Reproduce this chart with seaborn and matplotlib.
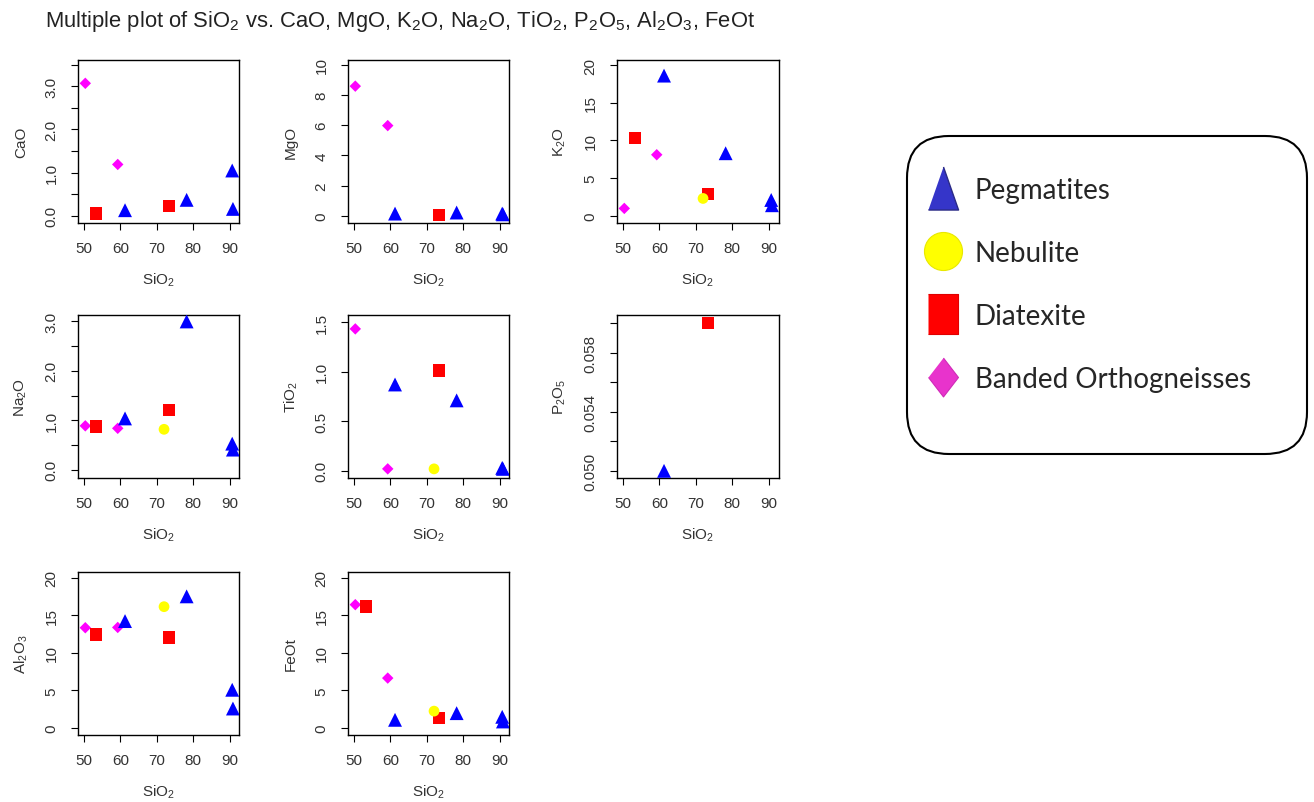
import numpy as np
import pandas as pd
import matplotlib
matplotlib.use("Agg")
import matplotlib.pyplot as plt
import seaborn as sns
from matplotlib.patches import FancyBboxPatch
from matplotlib.lines import Line2D

nan = np.nan

# ---------------- data ----------------
rock = ["Banded Orthogneisses", "Banded Orthogneisses", "Diatexite", "Diatexite",
        "Pegmatites", "Pegmatites", "Pegmatites", "Pegmatites", "Nebulite"]
sio2 = [50.4, 59.3, 53.3, 73.4, 61.3, 78.2, 90.7, 90.9, 72.0]
cao = [3.07, 1.19, 0.06, 0.23, 0.13, 0.37, 1.05, 0.16, nan]
mgo = [8.58, 5.97, nan, 0.07, 0.15, 0.22, 0.15, 0.10, nan]
k2o = [0.98, 8.10, 10.33, 2.90, 18.60, 8.30, 2.10, 1.40, 2.30]
na2o = [0.89, 0.84, 0.88, 1.21, 1.04, 3.00, 0.53, 0.41, 0.82]
tio2 = [1.43, 0.02, nan, 1.01, 0.87, 0.71, 0.03, 0.02, 0.02]
p2o5 = [nan, nan, nan, 0.060, 0.050, nan, nan, nan, nan]
al2o3 = [13.36, 13.40, 12.43, 12.03, 14.25, 17.55, 5.08, 2.58, 16.17]
feot = [16.44, 6.64, 16.20, 1.29, 1.07, 1.96, 1.47, 0.85, 2.23]

oxides = ["CaO", "MgO", "K2O", "Na2O", "TiO2", "P2O5", "Al2O3", "FeOt"]
ylabels = ["CaO", "MgO", r"$\mathregular{K_2O}$", r"$\mathregular{Na_2O}$",
           r"$\mathregular{TiO_2}$", r"$\mathregular{P_2O_5}$",
           r"$\mathregular{Al_2O_3}$", "FeOt"]
ylims = [(-0.155, 3.61), (-0.44, 10.31), (-0.89, 20.67), (-0.154, 3.13),
         (-0.067, 1.57), (0.04955, 0.06054), (-0.89, 20.8), (-0.89, 20.8)]
yticks = [[0, 0.5, 1, 1.5, 2, 2.5, 3, 3.5], [0, 2, 4, 6, 8, 10], [0, 5, 10, 15, 20],
          [0, 0.5, 1, 1.5, 2, 2.5, 3], [0, 0.5, 1, 1.5],
          [0.050, 0.052, 0.054, 0.056, 0.058, 0.060], [0, 5, 10, 15, 20], [0, 5, 10, 15, 20]]
yticklabels = [["0.0", "", "1.0", "", "2.0", "", "3.0", ""],
               ["0", "2", "4", "6", "8", "10"],
               ["0", "5", "10", "15", "20"],
               ["0.0", "", "1.0", "", "2.0", "", "3.0"],
               ["0.0", "0.5", "1.0", "1.5"],
               ["0.050", "", "0.054", "", "0.058", ""],
               ["0", "5", "10", "15", "20"],
               ["0", "5", "10", "15", "20"]]
xticks = [50, 60, 70, 80, 90]

groups = ["Pegmatites", "Nebulite", "Diatexite", "Banded Orthogneisses"]
palette = {"Pegmatites": "#0000ff", "Nebulite": "#ffff00",
           "Diatexite": "#ff0000", "Banded Orthogneisses": "#ff00ff"}
markers = {"Pegmatites": "^", "Nebulite": "o", "Diatexite": "s",
           "Banded Orthogneisses": "D"}
msizes = {"Pegmatites": 100, "Nebulite": 60, "Diatexite": 82,
          "Banded Orthogneisses": 34}

df = pd.DataFrame({"Rock": rock, "SiO2": sio2, "CaO": cao, "MgO": mgo, "K2O": k2o,
                   "Na2O": na2o, "TiO2": tio2, "P2O5": p2o5, "Al2O3": al2o3,
                   "FeOt": feot})

# ---------------- figure ----------------
sns.set_style("ticks")
plt.rcParams["font.family"] = ["Liberation Sans", "DejaVu Sans"]

W, H = 1314, 803
fig = plt.figure(figsize=(W / 100, H / 100), dpi=100)

col_left = [78, 348, 617]
row_top = [61, 316, 573]
pw, ph = 161.5, 162.5
txtcol = "#333333"

for i, ox in enumerate(oxides):
    r, c = divmod(i, 3)
    ax = fig.add_axes([col_left[c] / W, 1 - (row_top[r] + ph) / H, pw / W, ph / H])
    sns.scatterplot(data=df, x="SiO2", y=ox, hue="Rock", style="Rock", size="Rock",
                    hue_order=groups, style_order=groups, size_order=groups,
                    palette=palette, markers=markers, sizes=msizes,
                    linewidth=0, legend=False, ax=ax, zorder=3)
    ax.set_xlim(48.4, 92.7)
    ax.set_ylim(*ylims[i])
    ax.set_xticks(xticks)
    ax.set_xticklabels([str(t) for t in xticks])
    ax.set_yticks(yticks[i])
    ax.set_yticklabels(yticklabels[i])
    for s in ax.spines.values():
        s.set_visible(True)
        s.set_linewidth(1.0)
        s.set_color("black")
    ax.tick_params(direction="out", length=5, width=0.8, color="black",
                   labelsize=11, labelcolor=txtcol)
    ax.tick_params(axis="x", pad=8)
    ax.tick_params(axis="y", pad=9, labelrotation=90)
    for t in ax.get_yticklabels():
        t.set_va("center")
    ax.set_xlabel(r"$\mathregular{SiO_2}$", fontsize=11, color=txtcol)
    ax.set_ylabel(ylabels[i], fontsize=11, color=txtcol)
    ax.xaxis.set_label_coords(0.5, -57 / ph)
    ax.xaxis.label.set_va("center")
    ax.yaxis.set_label_coords(-57 / pw, 0.5)
    ax.yaxis.label.set_va("center")

title = (r"Multiple plot of $\mathregular{SiO_2}$ vs. CaO, MgO, $\mathregular{K_2O}$, "
         r"$\mathregular{Na_2O}$, $\mathregular{TiO_2}$, $\mathregular{P_2O_5}$, "
         r"$\mathregular{Al_2O_3}$, FeOt")
fig.text(45 / W, 1 - 22 / H, title, ha="left", va="center", fontsize=15.8,
         color="#222222", family=["Liberation Sans Narrow", "Liberation Sans"])

# ---------------- legend ----------------
box = FancyBboxPatch((9.07, 3.48), 4.0, 3.18,
                     boxstyle="round,pad=0,rounding_size=0.42",
                     transform=fig.dpi_scale_trans, facecolor="white",
                     edgecolor="black", linewidth=1.5, zorder=1)
fig.patches.append(box)

tri = [(-0.35, -0.5), (0.35, -0.5), (0, 0.5)]
rect = [(-0.375, -0.5), (0.375, -0.5), (0.375, 0.5), (-0.375, 0.5)]
diam = [(0, 0.5), (0.385, 0), (0, -0.5), (-0.385, 0)]
handles = [
    Line2D([], [], linestyle="none", marker=tri, markersize=31,
           markerfacecolor="#3535c9", markeredgecolor="#2b2b86", markeredgewidth=1),
    Line2D([], [], linestyle="none", marker="o", markersize=27.4,
           markerfacecolor="#ffff00", markeredgecolor="#e8e800", markeredgewidth=0.8),
    Line2D([], [], linestyle="none", marker=rect, markersize=28.8,
           markerfacecolor="#ff0000", markeredgecolor="#e00000", markeredgewidth=0.8),
    Line2D([], [], linestyle="none", marker=diam, markersize=28,
           markerfacecolor="#e833cc", markeredgecolor="#d02ab8", markeredgewidth=0.8),
]
fig.legend(handles, groups, loc="upper left", bbox_to_anchor=(922 / W, 1 - 178 / H),
           frameon=False, prop={"family": "Lato", "size": 20},
           handlelength=1.5, handletextpad=0.4, labelspacing=1.33,
           borderpad=0, borderaxespad=0)

fig.savefig("out.png", dpi=100)
